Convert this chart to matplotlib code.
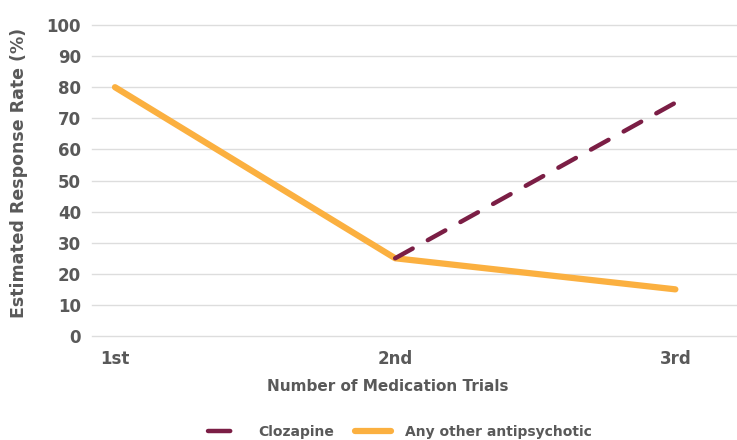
import matplotlib
matplotlib.use("Agg")
import matplotlib.pyplot as plt
from matplotlib.lines import Line2D

trials = ["1st", "2nd", "3rd"]
clozapine = [None, 25, 75]
other = [80, 25, 15]
yticks = [0, 10, 20, 30, 40, 50, 60, 70, 80, 90, 100]

plt.rcParams['font.family'] = ['DejaVu Sans']
text_col = "#595959"
c_cloz = "#7B1E45"
c_other = "#FBB040"

fig = plt.figure(figsize=(7.37, 4.40), dpi=100)
ax = fig.add_axes([92/737, 1-336/440, 1-92/737, (336-25)/440])

x = list(range(len(trials)))
xc = [i for i, v in zip(x, clozapine) if v is not None]
yc = [v for v in clozapine if v is not None]
ax.plot(x, other, color=c_other, lw=4.5, solid_capstyle='round', solid_joinstyle='round', zorder=3, label="Any other antipsychotic")
ax.plot(xc, yc, color=c_cloz, lw=3.2, dashes=(4.5, 3.9), dash_capstyle='round', zorder=4, label="Clozapine")

ax.set_xlim(-0.082, 2.22)
ax.set_ylim(0, 100)
ax.set_yticks(yticks)
ax.set_xticks(x)
ax.set_xticklabels(trials)
for s in ax.spines.values():
    s.set_visible(False)
ax.grid(axis='y', color="#DDDDDD", lw=1)
for gl in ax.get_ygridlines():
    gl.set_clip_on(False)
ax.set_axisbelow(True)
ax.tick_params(length=0, colors=text_col, labelsize=12, pad=8)
ax.tick_params(axis='x', pad=10)
for lab in ax.get_xticklabels() + ax.get_yticklabels():
    lab.set_fontweight('bold')
    lab.set_color(text_col)

fig.text(388/737, 1-386/440, "Number of Medication Trials", ha='center', va='center',
         fontsize=11, fontweight='bold', color=text_col)
fig.text(19/737, 1-173/440, "Estimated Response Rate (%)", ha='center', va='center',
         rotation=90, fontsize=12.5, fontweight='bold', color=text_col)

handles = [Line2D([], [], color=c_cloz, lw=3.2, dashes=(5, 4), dash_capstyle='round'),
           Line2D([], [], color=c_other, lw=4.5, solid_capstyle='round')]
leg = fig.legend(handles, ["Clozapine", "Any other antipsychotic"], loc='center',
                 bbox_to_anchor=(400/737, 1-432/440), ncol=2, frameon=False,
                 fontsize=10, handlelength=2.6, columnspacing=1.5, handletextpad=1.0)
for t in leg.get_texts():
    t.set_color(text_col)
    t.set_fontweight('bold')

fig.savefig("out.png", dpi=100)
